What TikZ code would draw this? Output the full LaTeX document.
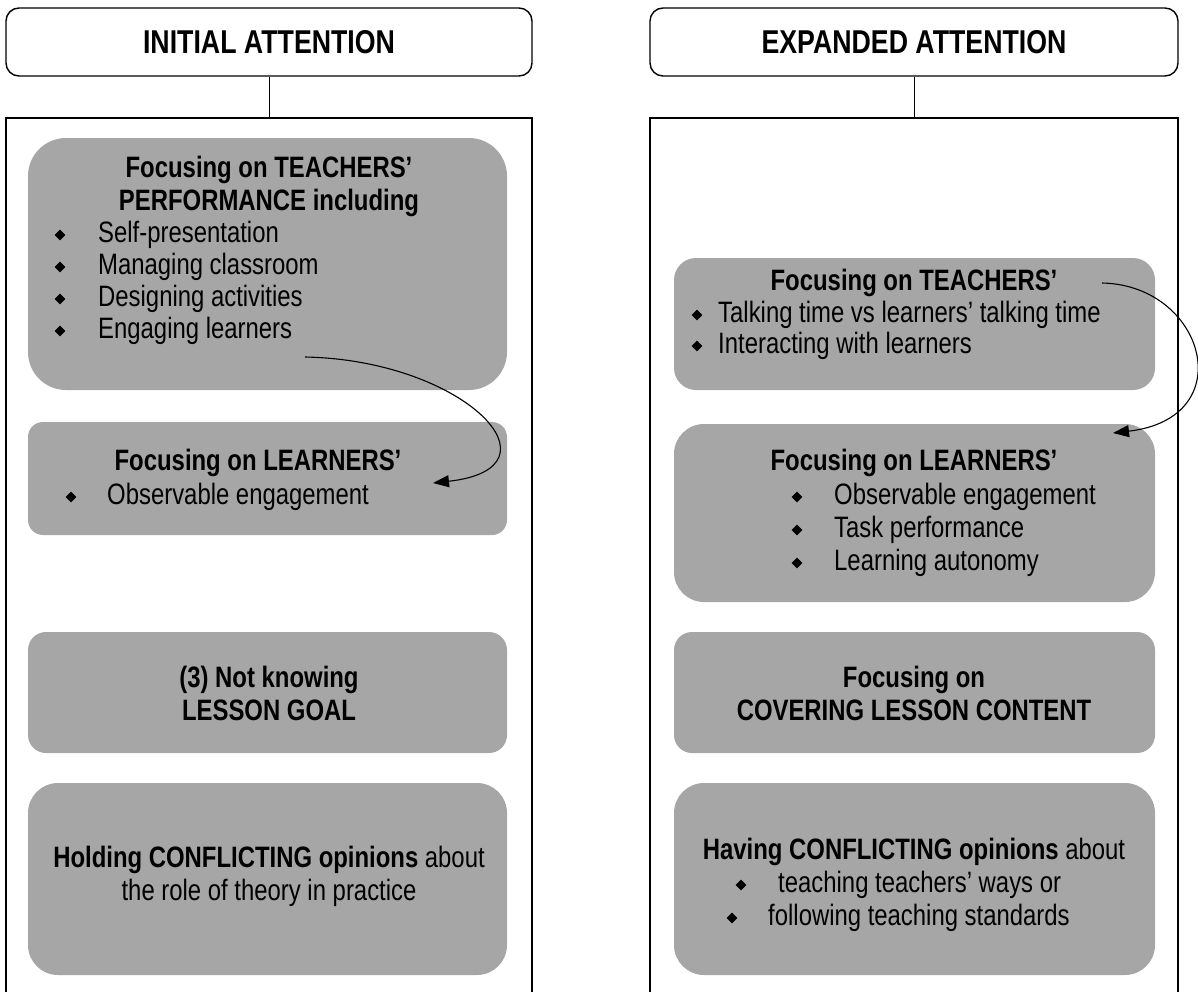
\documentclass[tikz,border=0pt]{standalone}
\usepackage{fontspec}
\setmainfont{Liberation Sans}[FakeStretch=0.81]
\usepackage{tikz}
\usetikzlibrary{shapes.geometric,arrows.meta,positioning}

\tikzset{
  hdbox/.style={draw,line width=1.4pt,rounded corners=13pt,minimum width=526pt,minimum height=68pt,
    font=\fontsize{33}{36}\selectfont\bfseries},
  frame/.style={draw,line width=1.4pt,minimum width=526pt,minimum height=892pt},
  gbox/.style={fill=black!35,rounded corners=#1,inner sep=0pt},
  txt/.style={inner sep=0pt,font=\fontsize{29.5}{33}\selectfont},
  hd/.style={txt,font=\fontsize{29.5}{33}\selectfont\bfseries,align=center},
  item/.style={txt,anchor=west},
  bul/.style={diamond,fill=black,inner sep=0pt,minimum size=11pt},
  link/.style={line width=1pt},
  curvearrow/.style={line width=1.1pt,-{Triangle[length=16pt,width=12pt]}}
}

\begin{document}
\begin{tikzpicture}[x=1pt,y=-1pt]
    \useasboundingbox (0,0) rectangle (1198,991);

    % headers and frames
    \node [hdbox] (lhead) at (269,42) {INITIAL ATTENTION};
    \node [hdbox,minimum width=528pt] (rhead) at (914,42) {EXPANDED ATTENTION};
    \node [frame] (lframe) at (269,564) {};
    \node [frame,minimum width=528pt] (rframe) at (914,564) {};
    \draw [link] (lhead) -- (lframe);
    \draw [link] (rhead) -- (rframe);

    % left column
    \node [gbox=38pt,minimum width=479pt,minimum height=252pt] (lteach) at (267.5,264) {};
    \node [gbox=15pt,minimum width=479pt,minimum height=113pt] (llearn) at (267.5,478.5) {};
    \node [gbox=18pt,minimum width=479pt,minimum height=121pt] (lgoal) at (267.5,692.5) {};
    \node [gbox=30pt,minimum width=479pt,minimum height=192pt] (lconf) at (267.5,879) {};

    \node [hd] (lteachhd) at (269,186) {Focusing on TEACHERS’\\PERFORMANCE including};
    \foreach \lbl [count=\i] in {Self-presentation, Managing classroom, Designing activities, Engaging learners} {
        \node [bul] (ltb\i) at (60,{203+32*\i}) {};
        \node [item] (lti\i) at (98,{203+32*\i}) {\lbl};
    }
    \node [hd] (llearnhd) at (258,463) {Focusing on LEARNERS’};
    \node [bul] (llb1) at (71,497) {};
    \node [item] (lli1) at (107,497) {Observable engagement};
    \node [hd] (lgoalhd) at (269,693) {(3) Not knowing\\LESSON GOAL};
    \node [txt,align=center] (lconfhd) at (269,876) {\textbf{Holding CONFLICTING opinions} about\\the role of theory in practice};

    % right column
    \node [gbox=22pt,minimum width=481pt,minimum height=132pt] (rteach) at (914.5,324) {};
    \node [gbox=30pt,minimum width=481pt,minimum height=178pt] (rlearn) at (914.5,513) {};
    \node [gbox=18pt,minimum width=481pt,minimum height=121pt] (rcont) at (914.5,692.5) {};
    \node [gbox=30pt,minimum width=481pt,minimum height=192pt] (rconf) at (914.5,879) {};

    \node [hd] (rteachhd) at (914,283) {Focusing on TEACHERS’};
    \foreach \lbl [count=\i] in {Talking time vs learners’ talking time, Interacting with learners} {
        \node [bul] (rtb\i) at (697,{284+31*\i}) {};
        \node [item] (rti\i) at (718,{284+31*\i}) {\lbl};
    }
    \node [hd] (rlearnhd) at (914,463) {Focusing on LEARNERS’};
    \foreach \lbl [count=\i] in {Observable engagement, Task performance, Learning autonomy} {
        \node [bul] (rlb\i) at (797,{464+33*\i}) {};
        \node [item] (rli\i) at (834,{464+33*\i}) {\lbl};
    }
    \node [hd] (rconthd) at (914,693) {Focusing on\\COVERING LESSON CONTENT};
    \node [txt] (rconfhd) at (914,852) {\textbf{Having CONFLICTING opinions} about};
    \node [bul] (rcb1) at (741,885) {};
    \node [item] (rci1) at (778,885) {teaching teachers’ ways or};
    \node [bul] (rcb2) at (732,918) {};
    \node [item] (rci2) at (768,918) {following teaching standards};

    % curved arrows
    \coordinate (lfrom) at (305,357);
    \coordinate (lto) at (433,483);
    \coordinate (rfrom) at (1102,283);
    \coordinate (rto) at (1113,433);
    \draw [curvearrow] (lfrom) .. controls (465,360) and (568,468) .. (lto);
    \draw [curvearrow] (rfrom) .. controls (1205,285) and (1242,418) .. (rto);
\end{tikzpicture}
\end{document}
